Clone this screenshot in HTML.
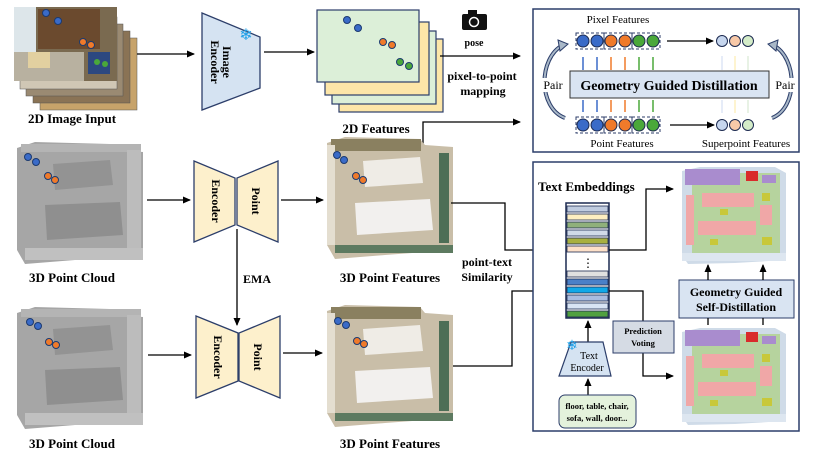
<!DOCTYPE html>
<html><head><meta charset="utf-8"><style>
body{margin:0;background:#fff}
svg{display:block}
text{font-family:"Liberation Serif",serif}
.b{font-weight:bold}
</style></head><body>
<svg width="814" height="456" viewBox="0 0 814 456" xmlns="http://www.w3.org/2000/svg">
<defs>
<marker id="a" markerWidth="8" markerHeight="8" refX="7" refY="4" orient="auto" markerUnits="userSpaceOnUse"><path d="M0,0.5 L8,4 L0,7.5z" fill="#000"/></marker>
<g id="cloud">
<path d="M2,8 L20,2 L95,4 L100,10 L128,12 L128,115 L60,120 L10,124 L2,110z" fill="#a6a6a6"/>
<path d="M30,65 L105,62 L108,95 L32,100z" fill="#8f8f8f"/>
<path d="M38,24 L95,20 L98,45 L40,50z" fill="#939393"/>
<rect x="6" y="4" width="120" height="8" fill="#b4b4b4"/>
<rect x="112" y="10" width="14" height="105" fill="#bcbcbc"/>
<rect x="10" y="108" width="118" height="12" fill="#c0c0c0"/>
</g>
<g id="feat">
<path d="M2,8 L20,2 L95,4 L100,10 L128,12 L128,115 L60,120 L10,124 L2,110z" fill="#c9bea8"/>
<rect x="6" y="4" width="90" height="12" fill="#8a8060"/>
<path d="M38,26 L95,22 L98,48 L40,52z" fill="#efece6"/>
<path d="M30,68 L105,64 L108,95 L32,100z" fill="#f2f0ee"/>
<rect x="114" y="18" width="10" height="90" fill="#4d6e56"/>
<rect x="10" y="110" width="118" height="8" fill="#5d7a60"/>
<rect x="2" y="10" width="8" height="100" fill="#e4ded0"/>
</g>
<g id="sem">
<path d="M2,6 L20,2 L95,2 L106,8 L106,95 L55,98 L8,99 L2,90z" fill="#cfdbe8"/>
<rect x="12" y="8" width="88" height="82" fill="#b6d39e"/>
<rect x="5" y="4" width="55" height="16" fill="#a98cce"/>
<rect x="66" y="6" width="12" height="10" fill="#d92b2b"/>
<rect x="82" y="10" width="14" height="8" fill="#a98cce"/>
<rect x="22" y="28" width="52" height="14" fill="#f0a7a7"/>
<rect x="18" y="56" width="58" height="14" fill="#f0a7a7"/>
<rect x="80" y="40" width="12" height="20" fill="#f0a7a7"/>
<rect x="6" y="30" width="8" height="50" fill="#f0a7a7"/>
<rect x="82" y="28" width="8" height="8" fill="#c8c83a"/>
<rect x="40" y="44" width="8" height="6" fill="#c8c83a"/>
<rect x="82" y="72" width="10" height="8" fill="#c8c83a"/>
<rect x="30" y="74" width="8" height="6" fill="#c8c83a"/>
<rect x="2" y="88" width="104" height="8" fill="#dde6f0"/>
</g>
</defs>

<rect x="40" y="38" width="97" height="72" fill="#c7a36a" stroke="#555" stroke-width="0.5"/>
<rect x="33" y="31" width="97" height="72" fill="#8a7355" stroke="#555" stroke-width="0.5"/>
<rect x="26" y="24" width="97" height="72" fill="#9a8a72" stroke="#555" stroke-width="0.5"/>
<rect x="20" y="17" width="97" height="72" fill="#d0c7b5" stroke="#555" stroke-width="0.5"/>
<rect x="14" y="7" width="103" height="74" fill="#7a6a50"/>
<rect x="14" y="7" width="22" height="45" fill="#dde6ea"/>
<rect x="38" y="9" width="62" height="40" fill="#6b4a2e"/>
<rect x="14" y="52" width="70" height="29" fill="#b8b1a0"/>
<rect x="28" y="52" width="22" height="16" fill="#e2d0a0"/>
<rect x="88" y="52" width="22" height="22" fill="#2c4880"/>
<circle cx="46" cy="13" r="3.5" fill="#3a6bc8" stroke="#1c3a70"/><circle cx="58" cy="21" r="3.5" fill="#3a6bc8" stroke="#1c3a70"/>
<circle cx="83" cy="42" r="3.5" fill="#f07a2a" stroke="#1c3a70"/><circle cx="91" cy="45" r="3.5" fill="#f07a2a" stroke="#1c3a70"/>
<circle cx="97" cy="62" r="3" fill="#4aa83a"/><circle cx="105" cy="64" r="3" fill="#4aa83a"/>
<text x="72" y="123" font-size="13" class="b" text-anchor="middle">2D Image Input</text>
<line x1="137" y1="54" x2="194" y2="54" stroke="#000" stroke-width="1.3" marker-end="url(#a)"/>

<path d="M202,13 L260,37 L260,88 L202,110z" fill="#d5e3f2" stroke="#2c3e6a" stroke-width="1.3"/>
<text transform="translate(223,62) rotate(90)" font-size="12" class="b" text-anchor="middle">Image</text>
<text transform="translate(211,62) rotate(90)" font-size="12" class="b" text-anchor="middle">Encoder</text>
<text x="246" y="40" font-size="16" fill="#1ea0e8" text-anchor="middle">❄</text>
<line x1="264" y1="52" x2="314" y2="52" stroke="#000" stroke-width="1.3" marker-end="url(#a)"/>

<rect x="339" y="39" width="104" height="73" fill="#fde6a8" stroke="#2c3e6a" stroke-width="1.2"/>
<rect x="332" y="31" width="104" height="73" fill="#dcefd8" stroke="#2c3e6a" stroke-width="1.2"/>
<rect x="325" y="22" width="104" height="73" fill="#fde6a8" stroke="#2c3e6a" stroke-width="1.2"/>
<rect x="317" y="10" width="102" height="72" fill="#dcefd8" stroke="#2c3e6a" stroke-width="1.2"/>
<circle cx="347" cy="20" r="3.5" fill="#3a6bc8" stroke="#1c3a70"/><circle cx="358" cy="28" r="3.5" fill="#3a6bc8" stroke="#1c3a70"/>
<circle cx="383" cy="42" r="3.5" fill="#f07a2a" stroke="#1c3a70"/><circle cx="392" cy="45" r="3.5" fill="#f07a2a" stroke="#1c3a70"/>
<circle cx="400" cy="62" r="3.5" fill="#4aa83a" stroke="#1c3a70"/><circle cx="409" cy="66" r="3.5" fill="#4aa83a" stroke="#1c3a70"/>
<text x="376" y="133" font-size="13" class="b" text-anchor="middle">2D Features</text>
<rect x="462" y="14" width="25" height="16" rx="2" fill="#111"/><rect x="468" y="10" width="9" height="5" fill="#111"/><circle cx="474" cy="22" r="4.5" fill="#111" stroke="#fff" stroke-width="1.5"/>
<text x="474" y="46" font-size="10" class="b" text-anchor="middle">pose</text>
<line x1="440" y1="56" x2="520" y2="56" stroke="#000" stroke-width="1.3" marker-end="url(#a)"/>
<text x="482" y="80" font-size="12" class="b" text-anchor="middle">pixel-to-point</text>
<text x="483" y="95" font-size="12" class="b" text-anchor="middle">mapping</text>
<polyline points="423,165 423,122 520,122" fill="none" stroke="#000" stroke-width="1.3" marker-end="url(#a)"/>

<use href="#cloud" x="15" y="140"/>
<circle cx="28" cy="157" r="3.5" fill="#3a6bc8" stroke="#1c3a70"/><circle cx="36" cy="162" r="3.5" fill="#3a6bc8" stroke="#1c3a70"/>
<circle cx="48" cy="176" r="3.5" fill="#f07a2a" stroke="#1c3a70"/><circle cx="55" cy="180" r="3.5" fill="#f07a2a" stroke="#1c3a70"/>
<text x="72" y="282" font-size="13" class="b" text-anchor="middle">3D Point Cloud</text>
<line x1="147" y1="200" x2="190" y2="200" stroke="#000" stroke-width="1.3" marker-end="url(#a)"/>
<path d="M194,161 L235,178 L235,225 L194,242z" fill="#fdf0cc" stroke="#2c3e6a" stroke-width="1.3"/>
<path d="M278,161 L237,178 L237,225 L278,242z" fill="#fdf0cc" stroke="#2c3e6a" stroke-width="1.3"/>
<text transform="translate(212,201) rotate(90)" font-size="12" class="b" text-anchor="middle">Encoder</text>
<text transform="translate(252,201) rotate(90)" font-size="12" class="b" text-anchor="middle">Point</text>
<line x1="281" y1="200" x2="323" y2="200" stroke="#000" stroke-width="1.3" marker-end="url(#a)"/>
<use href="#feat" x="325" y="135"/>
<circle cx="337" cy="155" r="3.5" fill="#3a6bc8" stroke="#1c3a70"/><circle cx="344" cy="160" r="3.5" fill="#3a6bc8" stroke="#1c3a70"/>
<circle cx="356" cy="176" r="3.5" fill="#f07a2a" stroke="#1c3a70"/><circle cx="363" cy="180" r="3.5" fill="#f07a2a" stroke="#1c3a70"/>
<text x="390" y="282" font-size="13" class="b" text-anchor="middle">3D Point Features</text>
<polyline points="451,203 505,203 505,250 566,250" fill="none" stroke="#000" stroke-width="1.3" marker-end="url(#a)"/>
<text x="487" y="266" font-size="12" class="b" text-anchor="middle">point-text</text>
<text x="487" y="281" font-size="12" class="b" text-anchor="middle">Similarity</text>

<line x1="237" y1="229" x2="237" y2="325" stroke="#000" stroke-width="1.3" marker-end="url(#a)"/>
<text x="257" y="283" font-size="12" class="b" text-anchor="middle">EMA</text>

<use href="#cloud" x="15" y="305"/>
<circle cx="30" cy="322" r="3.5" fill="#3a6bc8" stroke="#1c3a70"/><circle cx="38" cy="326" r="3.5" fill="#3a6bc8" stroke="#1c3a70"/>
<circle cx="49" cy="342" r="3.5" fill="#f07a2a" stroke="#1c3a70"/><circle cx="56" cy="345" r="3.5" fill="#f07a2a" stroke="#1c3a70"/>
<text x="72" y="448" font-size="13" class="b" text-anchor="middle">3D Point Cloud</text>
<line x1="148" y1="355" x2="191" y2="355" stroke="#000" stroke-width="1.3" marker-end="url(#a)"/>
<path d="M196,316 L238,333 L238,381 L196,398z" fill="#fdf0cc" stroke="#2c3e6a" stroke-width="1.3"/>
<path d="M280,316 L239,333 L239,381 L280,398z" fill="#fdf0cc" stroke="#2c3e6a" stroke-width="1.3"/>
<text transform="translate(214,357) rotate(90)" font-size="12" class="b" text-anchor="middle">Encoder</text>
<text transform="translate(254,357) rotate(90)" font-size="12" class="b" text-anchor="middle">Point</text>
<line x1="283" y1="353" x2="322" y2="353" stroke="#000" stroke-width="1.3" marker-end="url(#a)"/>
<use href="#feat" x="325" y="303"/>
<circle cx="338" cy="321" r="3.5" fill="#3a6bc8" stroke="#1c3a70"/><circle cx="346" cy="325" r="3.5" fill="#3a6bc8" stroke="#1c3a70"/>
<circle cx="357" cy="341" r="3.5" fill="#f07a2a" stroke="#1c3a70"/><circle cx="364" cy="344" r="3.5" fill="#f07a2a" stroke="#1c3a70"/>
<text x="390" y="448" font-size="13" class="b" text-anchor="middle">3D Point Features</text>
<polyline points="453,366 512,366 512,291 566,291" fill="none" stroke="#000" stroke-width="1.3" marker-end="url(#a)"/>

<rect x="533" y="9" width="266" height="143" fill="#fff" stroke="#2c3e6a" stroke-width="1.5"/>
<text x="618" y="23" font-size="11" text-anchor="middle">Pixel Features</text>
<text x="622" y="147" font-size="11" text-anchor="middle">Point Features</text>
<text x="746" y="147" font-size="11" text-anchor="middle">Superpoint Features</text>
<g stroke="#1c2a50" stroke-width="1">
<circle cx="583" cy="41" r="6" fill="#3a6bc8"/><circle cx="597" cy="41" r="6" fill="#3a6bc8"/><circle cx="611" cy="41" r="6" fill="#f07a2a"/><circle cx="625" cy="41" r="6" fill="#f07a2a"/><circle cx="639" cy="41" r="6" fill="#4aa83a"/><circle cx="653" cy="41" r="6" fill="#4aa83a"/>
<circle cx="583" cy="125" r="6" fill="#3a6bc8"/><circle cx="597" cy="125" r="6" fill="#3a6bc8"/><circle cx="611" cy="125" r="6" fill="#f07a2a"/><circle cx="625" cy="125" r="6" fill="#f07a2a"/><circle cx="639" cy="125" r="6" fill="#4aa83a"/><circle cx="653" cy="125" r="6" fill="#4aa83a"/>
<circle cx="722" cy="41" r="5.5" fill="#c6d6ee"/><circle cx="735" cy="41" r="5.5" fill="#f8c9a8"/><circle cx="748" cy="41" r="5.5" fill="#d4ecc8"/>
<circle cx="722" cy="125" r="5.5" fill="#c6d6ee"/><circle cx="735" cy="125" r="5.5" fill="#f8c9a8"/><circle cx="748" cy="125" r="5.5" fill="#d4ecc8"/>
</g>
<g fill="none" stroke="#2c3e6a" stroke-dasharray="3,2">
<rect x="576" y="33" width="28" height="16"/><rect x="604" y="33" width="28" height="16"/><rect x="632" y="33" width="28" height="16"/>
<rect x="576" y="117" width="28" height="16"/><rect x="604" y="117" width="28" height="16"/><rect x="632" y="117" width="28" height="16"/>
</g>
<line x1="667" y1="41" x2="713" y2="41" stroke="#000" stroke-width="1.3" marker-end="url(#a)"/>
<line x1="670" y1="125" x2="714" y2="125" stroke="#000" stroke-width="1.3" marker-end="url(#a)"/>
<g stroke-width="1.5">
<g stroke="#3a6bc8"><line x1="583" y1="70" x2="583" y2="57"/><line x1="597" y1="70" x2="597" y2="57"/><line x1="583" y1="100" x2="583" y2="112"/><line x1="597" y1="100" x2="597" y2="112"/></g>
<g stroke="#f07a2a"><line x1="611" y1="70" x2="611" y2="57"/><line x1="625" y1="70" x2="625" y2="57"/><line x1="611" y1="100" x2="611" y2="112"/><line x1="625" y1="100" x2="625" y2="112"/></g>
<g stroke="#4aa83a"><line x1="639" y1="70" x2="639" y2="57"/><line x1="653" y1="70" x2="653" y2="57"/><line x1="639" y1="100" x2="639" y2="112"/><line x1="653" y1="100" x2="653" y2="112"/></g>
<g stroke="#dde6f6"><line x1="722" y1="70" x2="722" y2="56"/><line x1="722" y1="100" x2="722" y2="113"/></g>
<g stroke="#fdf0c0"><line x1="735" y1="70" x2="735" y2="56"/><line x1="735" y1="100" x2="735" y2="113"/></g>
<g stroke="#e0eedc"><line x1="748" y1="70" x2="748" y2="56"/><line x1="748" y1="100" x2="748" y2="113"/></g>
</g>
<rect x="570" y="71" width="199" height="27" fill="#d9e4f2" stroke="#333" stroke-width="1"/>
<text x="669" y="90" font-size="14" class="b" text-anchor="middle">Geometry Guided Distillation</text>
<path d="M565,118 C538,108 538,58 563,45" fill="none" stroke="#2c3e6a" stroke-width="4"/>
<path d="M565,118 C538,108 538,58 563,45" fill="none" stroke="#a9b8c8" stroke-width="2"/>
<path d="M558,40 L568,44 L560,51z" fill="#a9b8c8" stroke="#2c3e6a"/>
<path d="M772,118 C798,108 798,58 773,45" fill="none" stroke="#2c3e6a" stroke-width="4"/>
<path d="M772,118 C798,108 798,58 773,45" fill="none" stroke="#a9b8c8" stroke-width="2"/>
<path d="M778,40 L768,44 L776,51z" fill="#a9b8c8" stroke="#2c3e6a"/>
<rect x="542" y="78" width="22" height="14" fill="#fff"/>
<text x="553" y="89" font-size="12" text-anchor="middle">Pair</text>
<rect x="774" y="78" width="22" height="14" fill="#fff"/>
<text x="785" y="89" font-size="12" text-anchor="middle">Pair</text>

<rect x="533" y="162" width="266" height="269" fill="#fff" stroke="#2c3e6a" stroke-width="1.5"/>
<text x="538" y="191" font-size="13" class="b">Text Embeddings</text>
<rect x="566" y="203" width="43" height="115" fill="#fff" stroke="#1c2a50" stroke-width="1.5"/>
<g stroke="#1c2a50" stroke-width="0.8">
<rect x="567" y="206" width="41" height="6" fill="#c0cce0"/>
<rect x="567" y="214" width="41" height="6" fill="#fdeec0"/>
<rect x="567" y="222" width="41" height="6" fill="#8fb07a"/>
<rect x="567" y="230" width="41" height="6" fill="#d0dae8"/>
<rect x="567" y="238" width="41" height="6" fill="#a8b040"/>
<rect x="567" y="246" width="41" height="6" fill="#fde0c8"/>
<rect x="567" y="271" width="41" height="6" fill="#e0e0e0"/>
<rect x="567" y="279" width="41" height="6" fill="#4a80c8"/>
<rect x="567" y="287" width="41" height="6" fill="#10a8e8"/>
<rect x="567" y="295" width="41" height="6" fill="#a8bce0"/>
<rect x="567" y="303" width="41" height="6" fill="#d8e4f4"/>
<rect x="567" y="311" width="41" height="6" fill="#50a040"/>
</g>
<text x="588" y="267" font-size="12" text-anchor="middle">⋮</text>
<polyline points="609,250 646,250 646,189 673,189" fill="none" stroke="#000" stroke-width="1.3" marker-end="url(#a)"/>
<polyline points="609,291 643,291 643,376 673,376" fill="none" stroke="#000" stroke-width="1.3" marker-end="url(#a)"/>
<line x1="588" y1="342" x2="588" y2="321" stroke="#000" stroke-width="1.3" marker-end="url(#a)"/>
<path d="M571,342 L603,342 L611,376 L559,376z" fill="#d5e3f2" stroke="#2c3e6a" stroke-width="1.2"/>
<text x="589" y="359" font-size="10" text-anchor="middle">Text</text>
<text x="587" y="371" font-size="10" text-anchor="middle">Encoder</text>
<text x="572" y="350" font-size="14" fill="#1ea0e8" text-anchor="middle">❄</text>
<line x1="588" y1="395" x2="588" y2="379" stroke="#000" stroke-width="1.3" marker-end="url(#a)"/>
<rect x="559" y="395" width="77" height="33" rx="6" fill="#e4f2dc" stroke="#2c3e6a"/>
<text x="597" y="409" font-size="8.5" class="b" text-anchor="middle">floor, table, chair,</text>
<text x="597" y="421" font-size="8.5" class="b" text-anchor="middle">sofa, wall, door...</text>
<rect x="613" y="321" width="61" height="32" fill="#d5dbe4" stroke="#2c3e6a"/>
<text x="643" y="334" font-size="8.5" class="b" text-anchor="middle">Prediction</text>
<text x="643" y="346" font-size="8.5" class="b" text-anchor="middle">Voting</text>
<use href="#sem" x="680" y="165"/>
<use href="#sem" x="680" y="326"/>
<rect x="679" y="280" width="115" height="38" fill="#d9e4f2" stroke="#2c3e6a"/>
<text x="736" y="296" font-size="12" class="b" text-anchor="middle">Geometry Guided</text>
<text x="736" y="311" font-size="12" class="b" text-anchor="middle">Self-Distillation</text>
<line x1="708" y1="280" x2="708" y2="265" stroke="#000" stroke-width="1.3" marker-end="url(#a)"/>
<line x1="763" y1="280" x2="763" y2="265" stroke="#000" stroke-width="1.3" marker-end="url(#a)"/>
<line x1="708" y1="325" x2="708" y2="318" stroke="#000" stroke-width="1.3"/>
<line x1="763" y1="325" x2="763" y2="318" stroke="#000" stroke-width="1.3"/>
</svg>
</body></html>
